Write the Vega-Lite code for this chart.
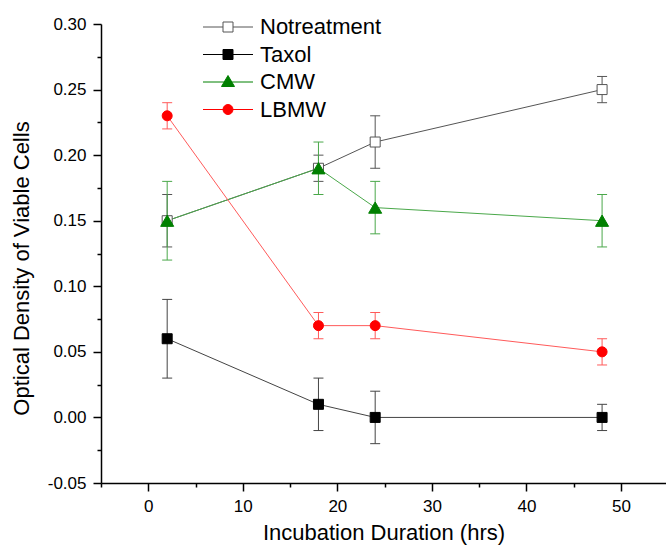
{
  "$schema": "https://vega.github.io/schema/vega-lite/v6.json",
  "width": 565,
  "height": 459,
  "autosize": "none",
  "padding": {"left": 101, "top": 24, "right": 0, "bottom": 62},
  "background": "white",
  "config": {
    "view": {"stroke": null},
    "axis": {
      "domainColor": "black", "domainWidth": 1.5, "tickColor": "black", "tickWidth": 1.5,
      "labelFont": "Liberation Sans", "labelFontSize": 17, "labelColor": "black", "labelPadding": 7,
      "titleFont": "Liberation Sans", "titleFontSize": 22, "titleFontWeight": "normal", "titleColor": "black",
      "grid": false, "labelOverlap": false, "labelFlush": false
    },
    "legend": {
      "labelFont": "Liberation Sans", "labelFontSize": 22, "labelColor": "black"
    }
  },
  "data": {
    "values": [
      {"series": "Notreatment", "hrs": 2, "od": 0.15, "err": 0.02},
      {"series": "Notreatment", "hrs": 18, "od": 0.19, "err": 0.01},
      {"series": "Notreatment", "hrs": 24, "od": 0.21, "err": 0.02},
      {"series": "Notreatment", "hrs": 48, "od": 0.25, "err": 0.01},
      {"series": "Taxol", "hrs": 2, "od": 0.06, "err": 0.03},
      {"series": "Taxol", "hrs": 18, "od": 0.01, "err": 0.02},
      {"series": "Taxol", "hrs": 24, "od": 0.0, "err": 0.02},
      {"series": "Taxol", "hrs": 48, "od": 0.0, "err": 0.01},
      {"series": "CMW", "hrs": 2, "od": 0.15, "err": 0.03},
      {"series": "CMW", "hrs": 18, "od": 0.19, "err": 0.02},
      {"series": "CMW", "hrs": 24, "od": 0.16, "err": 0.02},
      {"series": "CMW", "hrs": 48, "od": 0.15, "err": 0.02},
      {"series": "LBMW", "hrs": 2, "od": 0.23, "err": 0.01},
      {"series": "LBMW", "hrs": 18, "od": 0.07, "err": 0.01},
      {"series": "LBMW", "hrs": 24, "od": 0.07, "err": 0.01},
      {"series": "LBMW", "hrs": 48, "od": 0.05, "err": 0.01}
    ]
  },
  "encoding": {
    "x": {
      "field": "hrs", "type": "quantitative",
      "scale": {"domain": [-5, 54.76], "nice": false, "zero": false},
      "axis": {
        "title": "Incubation Duration (hrs)",
        "values": [-5, 0, 5, 10, 15, 20, 25, 30, 35, 40, 45, 50],
        "labelExpr": "datum.value % 10 !== 0 ? '' : datum.label",
        "tickSize": {"condition": {"test": "datum.value % 10 !== 0", "value": 4}, "value": 8},
        "titlePadding": 8
      }
    },
    "y": {
      "field": "od", "type": "quantitative",
      "scale": {"domain": [-0.05, 0.3], "nice": false, "zero": false},
      "axis": {
        "title": "Optical Density of Viable Cells",
        "values": [-0.05, -0.025, 0, 0.025, 0.05, 0.075, 0.1, 0.125, 0.15, 0.175, 0.2, 0.225, 0.25, 0.275, 0.3],
        "labelExpr": "round(datum.value*40) % 2 !== 0 ? '' : (datum.value < 0 ? '-' : '') + format(abs(datum.value), '.2f')",
        "tickSize": {"condition": {"test": "round(datum.value*40) % 2 !== 0", "value": 4}, "value": 8},
        "titlePadding": 14,
        "titleY": 244
      }
    }
  },
  "layer": [
    {
      "mark": {"type": "errorbar", "ticks": {"size": 10, "thickness": 1, "opacity": 1}, "rule": {"strokeWidth": 1}, "thickness": 1},
      "encoding": {
        "yError": {"field": "err"},
        "color": {
          "field": "series", "type": "nominal", "legend": null,
          "scale": {"domain": ["CMW", "LBMW", "Notreatment", "Taxol"], "range": ["#4aa84a", "#ff5a5a", "#555555", "#444444"]}
        }
      }
    },
    {
      "mark": {"type": "line", "strokeWidth": 1},
      "encoding": {
        "color": {
          "field": "series", "type": "nominal", "legend": null,
          "scale": {"domain": ["CMW", "LBMW", "Notreatment", "Taxol"], "range": ["#4aa84a", "#ff5a5a", "#555555", "#444444"]}
        }
      }
    },
    {
      "mark": {"type": "point", "filled": true, "opacity": 1, "strokeWidth": 1},
      "encoding": {
        "shape": {
          "field": "series", "type": "nominal", "legend": null,
          "scale": {"domain": ["LBMW", "CMW", "Taxol", "Notreatment"], "range": ["circle", "triangle-up", "square", "square"]}
        },
        "fill": {
          "field": "series", "type": "nominal",
          "scale": {"domain": ["Notreatment", "Taxol", "CMW", "LBMW"], "range": ["#ffffff", "#000000", "#008000", "#ff0000"]},
          "legend": {
            "title": null, "orient": "none", "legendX": 116, "legendY": -8, "padding": 0,
            "symbolSize": 400, "rowPadding": 5.5, "labelOffset": 21, "symbolStrokeWidth": 1,
            "symbolType": {"expr": "datum.value === 'LBMW' ? 'M-2.5,0H-0.5M0.5,0H2.5M-0.5,0A0.5,0.5 0 1,0 0.5,0A0.5,0.5 0 1,0 -0.5,0Z' : datum.value === 'CMW' ? 'M-2.5,0H-0.4M0.4,0H2.5M0,-0.65L0.65,0.45L-0.65,0.45Z' : 'M-2.5,0H-0.5M0.5,0H2.5M-0.5,-0.5H0.5V0.5H-0.5Z'"}
          }
        },
        "stroke": {
          "field": "series", "type": "nominal",
          "scale": {"domain": ["Notreatment", "Taxol", "CMW", "LBMW"], "range": ["#555555", "#000000", "#008000", "#ff0000"]}
        },
        "size": {"condition": {"test": "datum.series === 'CMW'", "value": 170}, "value": 100}
      }
    }
  ]
}
